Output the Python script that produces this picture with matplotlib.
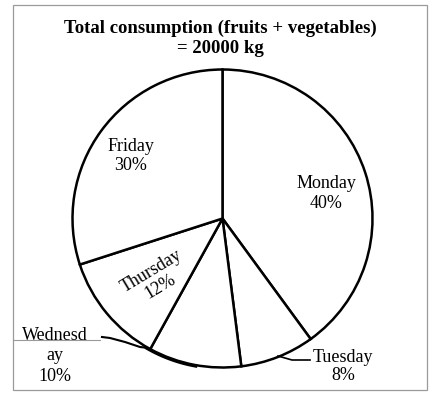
import matplotlib
matplotlib.use("Agg")
import matplotlib.pyplot as plt
from matplotlib.patches import Rectangle
import numpy as np

days = ["Monday", "Tuesday", "Wednesday", "Thursday", "Friday"]
shares = [40, 8, 10, 12, 30]
title_lines = ["Total consumption (fruits + vegetables)", "= 20000 kg"]

W, H = 436, 398
fig = plt.figure(figsize=(W / 100, H / 100), dpi=100)
fig.patch.set_facecolor("white")

def fx(px):
    return np.asarray(px) / W

def fy(py):
    return 1 - np.asarray(py) / H

# outer frame
fig.add_artist(Rectangle((fx(13), fy(390)), fx(427) - fx(13), fy(5) - fy(390),
                         transform=fig.transFigure, fill=False, ec="#9a9a9a", lw=0.9))
# top edge of the Wednesday label box
fig.add_artist(plt.Line2D(fx([13, 100]), fy([339.5, 339.5]), transform=fig.transFigure,
                          color="#9a9a9a", lw=0.8))

cx, cy, rx, ry = 222.5, 218.5, 150, 149
ax = fig.add_axes([fx(cx - rx), fy(cy + ry), 2 * rx / W, 2 * ry / H])
wedges, _ = ax.pie(shares, startangle=90, counterclock=False,
                   colors=["white"] * len(shares),
                   wedgeprops=dict(edgecolor="black", linewidth=1.8))
ax.set_xlim(-1, 1)
ax.set_ylim(-1, 1)
ax.set_aspect("auto")
ax.axis("off")

serif = ["Liberation Serif", "DejaVu Serif"]

def lines(x, baselines, texts, **kw):
    for b, t in zip(baselines, texts):
        fig.text(fx(x), fy(b), t, ha="center", va="baseline", family=serif, **kw)

lines(220, [33, 53], title_lines, fontsize=13.5, fontweight="bold")

fs = 13
lines(326, [188, 208], [days[0], f"{shares[0]}%"], fontsize=fs)
lines(131, [151, 169.5], [days[4], f"{shares[4]}%"], fontsize=fs)
lines(55, [340, 360, 381], ["Wednesd", "ay", f"{shares[2]}%"], fontsize=fs)
lines(343, [362, 380], [days[1], f"{shares[1]}%"], fontsize=fs)
fig.text(fx(156), fy(279), f"{days[3]}\n{shares[3]}%", ha="center", va="center",
         fontsize=fs, family=serif, linespacing=1.05, rotation=31,
         rotation_mode="anchor")

# leader lines (figure pixel coords)
lx = [102, 110, 125, 140]
ly = [337, 338, 342, 347]
ang = np.radians(np.linspace(-121, -100, 20))
lx = np.concatenate([lx, cx + (rx + 1.5) * np.cos(ang)])
ly = np.concatenate([ly, cy - (ry + 1.5) * np.sin(ang)])
fig.add_artist(plt.Line2D(fx(lx), fy(ly), transform=fig.transFigure,
                          color="black", lw=1.5))
fig.add_artist(plt.Line2D(fx([278, 292, 310]), fy([356, 360, 360]),
                          transform=fig.transFigure, color="black", lw=1.2))

fig.savefig("out.png", dpi=100)
